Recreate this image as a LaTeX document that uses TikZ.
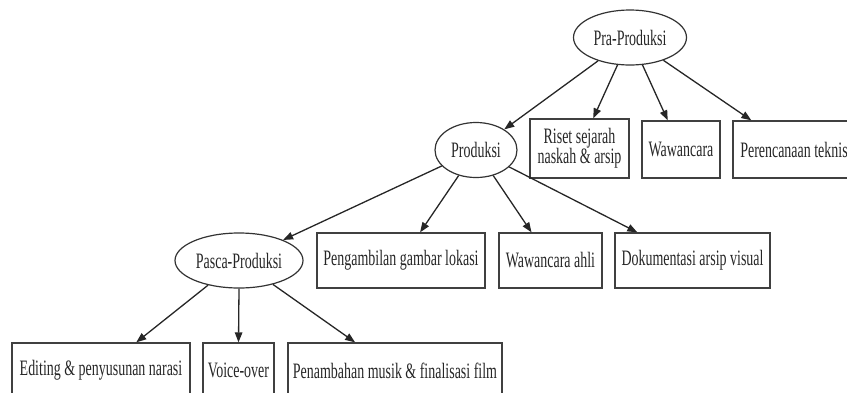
\documentclass[tikz,border=0pt]{standalone}
\usepackage{fontspec}
\setmainfont{Liberation Serif}[FakeStretch=0.635]
\usetikzlibrary{arrows.meta,shapes.geometric}
\begin{document}
\begin{tikzpicture}[x=1pt,y=-1pt,
  every node/.style={font=\fontsize{22}{20}\selectfont, text=black!85, inner sep=0pt},
  ell/.style={ellipse, draw=black!80, line width=1.2pt},
  box/.style={rectangle, draw=black!75, line width=1.3pt, minimum height=57pt, align=center},
  edge/.style={draw=black!85, line width=1.3pt, -{Triangle[length=10pt,width=7.5pt]}}
]
\useasboundingbox (0,0) rectangle (847,392);
% level 0
\node[ell, minimum width=113pt, minimum height=55pt] (pra) at (630,37.5) {Pra-Produksi};
% level 1
\node[ell, minimum width=82pt, minimum height=55pt] (prod) at (476,150) {Produksi};
\node[box, minimum width=99pt, minimum height=59pt] (riset) at (579.5,148.5) {Riset sejarah\\naskah \& arsip};
\node[box, minimum width=78pt] (waw) at (681,149.5) {Wawancara};
\node[box, minimum width=122pt] (peren) at (794,149.5) {Perencanaan teknis};
% level 2
\node[ell, minimum width=128pt, minimum height=55pt] (pasca) at (239,260.5) {Pasca-Produksi};
\node[box, minimum width=168pt, minimum height=55pt] (peng) at (401,260.5) {Pengambilan gambar lokasi};
\node[box, minimum width=103pt, minimum height=55pt] (wahli) at (550.5,260.5) {Wawancara ahli};
\node[box, minimum width=155pt, minimum height=55pt] (dok) at (692.5,260.5) {Dokumentasi arsip visual};
% level 3
\node[box, minimum width=178pt, minimum height=55pt] (edit) at (101,370.5) {Editing \& penyusunan narasi};
\node[box, minimum width=71pt, minimum height=55pt] (voice) at (238.5,370.5) {Voice-over};
\node[box, minimum width=214pt, minimum height=55pt] (penam) at (395,370.5) {Penambahan musik \& finalisasi film};
% edges
\draw[edge] (pra) -- (prod);
\draw[edge] (pra) -- (riset);
\draw[edge] (pra) -- (waw);
\draw[edge] (pra) -- (peren);
\draw[edge] (prod) -- (pasca);
\draw[edge] (prod) -- (peng);
\draw[edge] (prod) -- (wahli);
\draw[edge] (prod) -- (dok);
\draw[edge] (pasca) -- (edit);
\draw[edge] (pasca.south) -- (voice.north);
\draw[edge] (pasca) -- (penam);
\end{tikzpicture}
\end{document}
